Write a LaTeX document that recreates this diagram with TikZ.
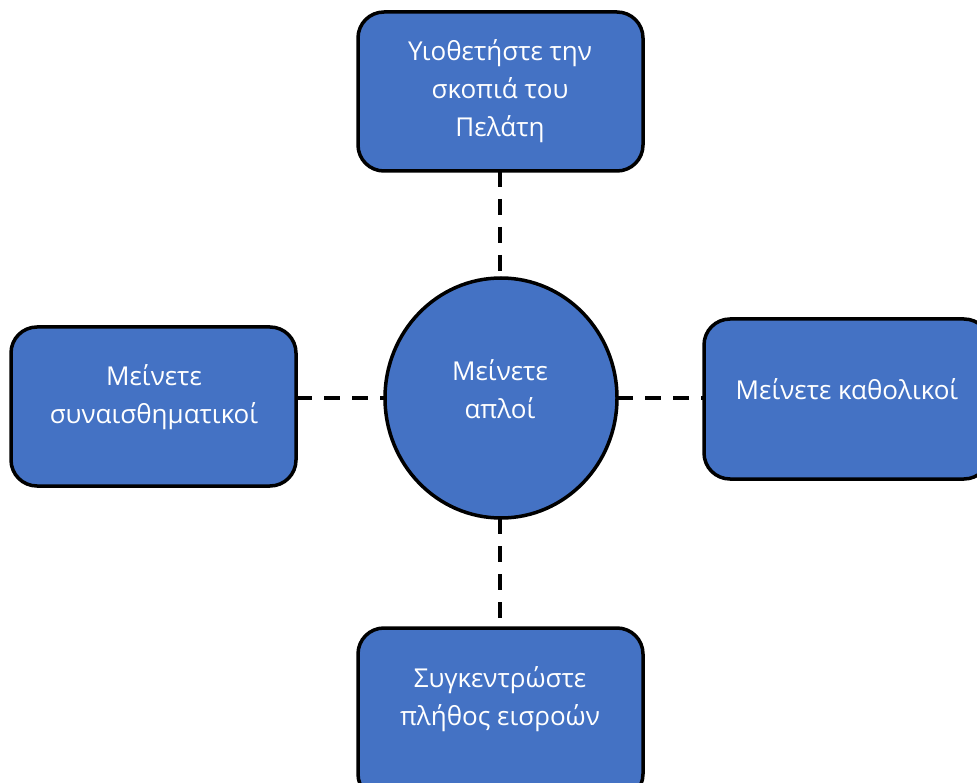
\documentclass[tikz,border=0pt]{standalone}
\usepackage{fontspec}
\setmainfont{Open Sans}
\usetikzlibrary{shapes.geometric}
\definecolor{boxblue}{HTML}{4472C4}
\tikzset{
  x=1pt, y=-1pt,
  itembox/.style={draw=black, line width=3.5pt, fill=boxblue, rounded corners=26pt},
  hub/.style={draw=black, line width=3.5pt, fill=boxblue},
  label/.style={text=white, align=center, font=\fontsize{26}{38}\selectfont},
  link/.style={draw=black, line width=3.5pt, dash pattern=on 16pt off 12pt},
}
\begin{document}
\begin{tikzpicture}
\useasboundingbox (0,0) rectangle (977,783);
\begin{scope}
\clip (0,0) rectangle (977,783);
% outer boxes
\path[itembox] (358,12) rectangle (643,171);
\path[itembox] (11,327) rectangle (296,486);
\path[itembox] (704,319) rectangle (990,479);
\path[itembox] (358,628) rectangle (643,800);
% central ellipse
\path[hub] (501,398) ellipse [x radius=116, y radius=120];
\end{scope}
% named anchors on the shape borders
\coordinate (topB) at (500,171);
\coordinate (leftB) at (296,398);
\coordinate (rightB) at (704,398);
\coordinate (botB) at (500,628);
\coordinate (hubT) at (500,278);
\coordinate (hubL) at (385,398);
\coordinate (hubR) at (617,398);
\coordinate (hubB) at (500,518);
% dashed links
\draw[link] (topB) -- (hubT);
\draw[link] (leftB) -- (hubL);
\draw[link] (hubR) -- (rightB);
\draw[link] (hubB) -- (botB);
% texts
\node[label] (tTop) at (500,91) {Υιοθετήστε την\\σκοπιά του\\Πελάτη};
\node[label] (tLeft) at (154,397) {Μείνετε\\συναισθηματικοί};
\node[label] (tRight) at (847,389) {Μείνετε καθολικοί};
\node[label] (tBot) at (500,699) {Συγκεντρώστε\\πλήθος εισροών};
\node[label] (tHub) at (500,389) {Μείνετε\\απλοί};
\end{tikzpicture}
\end{document}
